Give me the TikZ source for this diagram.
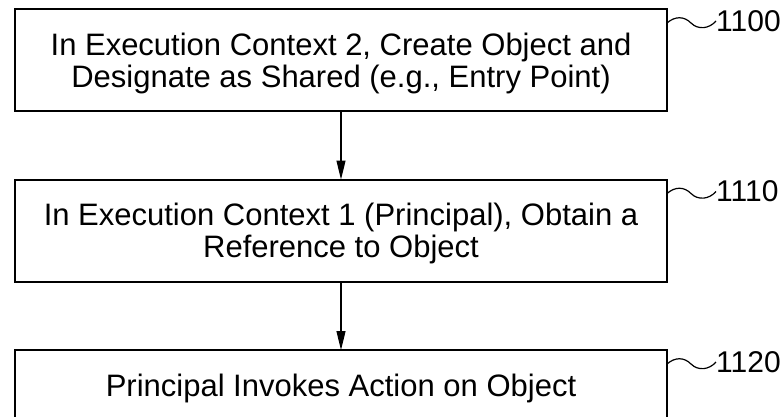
\documentclass[tikz,border=0pt]{standalone}
\usepackage{fontspec}
\setmainfont{Liberation Sans}
\usetikzlibrary{calc,arrows.meta}

\begin{document}
\begin{tikzpicture}[x=1pt,y=-1pt,
        stepbox/.style={draw,line width=2pt,minimum width=652pt,inner sep=0pt,outer sep=0pt,text depth=0pt,align=center,font=\fontsize{31}{32}\selectfont},
        flow/.style={line width=1.2pt,-{Triangle[length=19pt,width=9pt]}},
        refnum/.style={anchor=west,inner sep=0pt,font=\fontsize{30}{32}\selectfont},
        squiggle/.style={line width=1.2pt}]
        \useasboundingbox (0,0) rectangle (780,416);
        \node[stepbox,minimum height=102pt] (create) at (341,60) {In Execution Context 2, Create Object and\\Designate as Shared (e.g., Entry Point)};
        \node[stepbox,minimum height=102pt] (obtain) at (341,230.5) {In Execution Context 1 (Principal), Obtain a\\Reference to Object};
        \node[stepbox,minimum height=70pt] (invoke) at (341,385) {Principal Invokes Action on Object};
        \draw[flow] (create) -- (obtain);
        \draw[flow] (obtain) -- (invoke);
        % reference numerals
        \foreach \b/\n in {create/1100,obtain/1110,invoke/1120} {%
            \node[refnum] (num\n) at ($(\b.north east)+(49,12)$) {\n};
            \coordinate (s\n) at ($(\b.north east)+(0,14)$);
            \coordinate (m\n) at ($(\b.north east)+(24,14)$);
            \draw[squiggle] (s\n) .. controls +(8,-7) and +(-7,-7) .. (m\n) .. controls +(7,7) and +(-7,8) .. (num\n.west);
        }
    \end{tikzpicture}
\end{document}
